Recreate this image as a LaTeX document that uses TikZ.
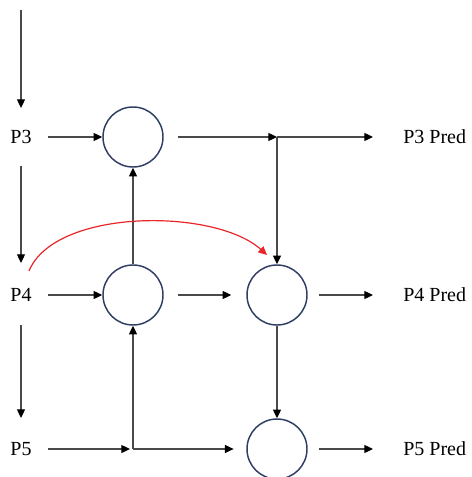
\documentclass[tikz,border=0pt]{standalone}
\usepackage{fontspec}
\setmainfont{Liberation Serif}
\usetikzlibrary{arrows.meta}
\definecolor{linegray}{HTML}{4A4A4A}
\definecolor{circnavy}{HTML}{2E3D63}
\definecolor{redline}{HTML}{E8262A}
\begin{document}
\begin{tikzpicture}[x=0.75pt,y=-0.75pt,
  lbl/.style={inner sep=0pt,font=\fontsize{15}{18}\selectfont},
  circ/.style={circle,draw=circnavy,line width=1.1pt,minimum size=45pt,inner sep=0pt},
  arr/.style={draw=linegray,line width=0.9pt,-{Triangle[length=6.5pt,width=6pt,color=black]}},
  redarr/.style={draw=redline,line width=0.9pt,-{Triangle[length=6.5pt,width=6pt]}}]
\useasboundingbox (0,0) rectangle (471,477);
% labels
\node[lbl] (p3) at (21,137) {P3};
\node[lbl] (p4) at (21,295) {P4};
\node[lbl] (p5) at (21,449) {P5};
\node[lbl,anchor=west] (o3) at (403,137) {P3 Pred};
\node[lbl,anchor=west] (o4) at (403,295) {P4 Pred};
\node[lbl,anchor=west] (o5) at (403,449) {P5 Pred};
% circles
\node[circ] (c1) at (133,137) {};
\node[circ] (c2) at (133,295) {};
\node[circ] (c3) at (277,295) {};
\node[circ] (c4) at (277,449) {};
% junctions
\coordinate (top) at (21,10);
\coordinate (j3) at (277,137);
\coordinate (j5) at (133,449);
% left column
\draw[arr,shorten >=21.75pt] (top) -- (p3.center);
\draw[arr,shorten <=22pt,shorten >=24pt] (p3.center) -- (p4.center);
\draw[arr,shorten <=22.5pt,shorten >=23.25pt] (p4.center) -- (p5.center);
% row P3
\draw[arr,shorten <=20.25pt] (p3.center) -- (c1.west);
\draw[arr,shorten <=10.5pt] (c1.east) -- (j3);
\draw[arr,shorten >=22.5pt] (j3) -- (o3.west);
\draw[arr] (j3) -- (c3.north);
% row P4
\draw[arr] (c2.north) -- (c1.south);
\draw[arr,shorten <=20.25pt] (p4.center) -- (c2.west);
\draw[arr,shorten <=10.5pt,shorten >=11.25pt] (c2.east) -- (c3.west);
\draw[arr,shorten <=8.25pt,shorten >=22.5pt] (c3.east) -- (o4.west);
\draw[arr] (c3.south) -- (c4.north);
% row P5
\draw[arr,shorten <=20.25pt,shorten >=2.25pt] (p5.center) -- (j5);
\draw[arr] (j5) -- (c2.south);
\draw[arr,shorten >=9.5pt] (j5) -- (c4.west);
\draw[arr,shorten <=8.25pt,shorten >=22.5pt] (c4.east) -- (o5.west);
% red skip connection
\draw[redarr] ([shift={(8,-24)}]p4.center) .. controls (55,208) and (215,208) .. ([shift={(-10,-40)}]c3.center);
\end{tikzpicture}
\end{document}
